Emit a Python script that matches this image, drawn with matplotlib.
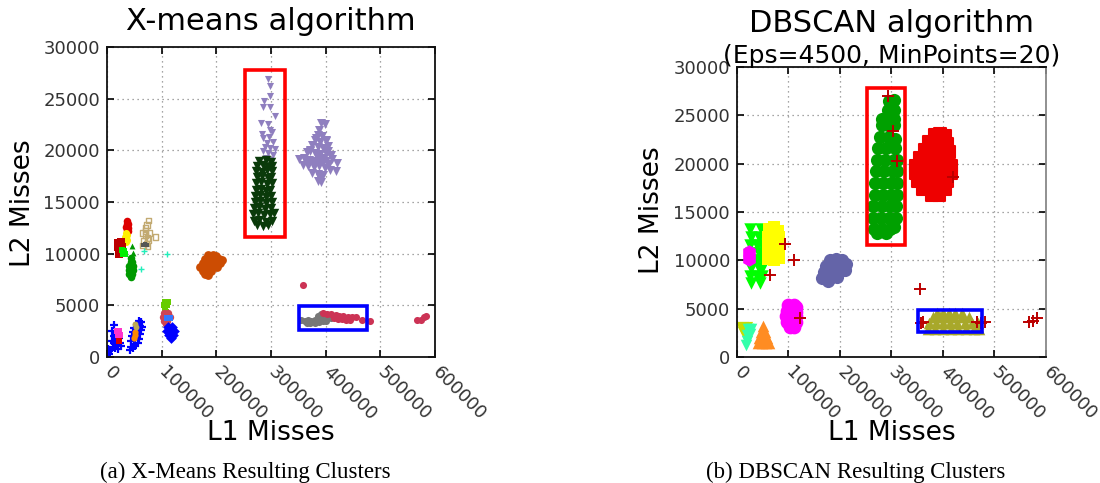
import matplotlib
matplotlib.use("Agg")
import matplotlib.pyplot as plt
from matplotlib.patches import Rectangle

K = 1000  # cluster coordinates below are written in thousands of misses

# ---------------- axis settings (shared) ----------------
x_ticks = [0, 100000, 200000, 300000, 400000, 500000, 600000]
x_tick_labels = ["0", "100000", "200000", "300000", "400000", "500000", "600000"]
y_ticks = [0, 5000, 10000, 15000, 20000, 25000, 30000]
y_tick_labels = ["0", "5000", "10000", "15000", "20000", "25000", "30000"]

# highlighted regions (x0, x1, y0, y1) in thousands
red_box = [252, 326, 11.6, 27.8]
blue_box = [351, 476, 2.6, 4.9]

# ================= (a) X-means clusters =================
xm_lav_col_x = [294, 298, 288, 298, 286, 299, 307, 282, 295, 298, 283, 301, 286, 297, 292, 304,
                289, 298, 307, 286, 295, 303, 291, 299]
xm_lav_col_y = [26.9, 26.2, 24.8, 25.3, 24.2, 24.2, 23.3, 22.6, 22.5, 22.0, 21.6, 21.8, 21.2, 21.3,
                20.7, 20.8, 20.3, 20.2, 20.1, 19.9, 19.7, 19.5, 19.3, 19.1]

xm_lav_blob_x = [392, 398, 388, 385, 393, 380, 390, 400, 375, 385, 395, 405, 365, 372, 380, 390,
                 400, 410, 352, 360, 370, 380, 390, 400, 412, 420, 358, 368, 378, 388, 398, 408,
                 418, 375, 385, 395, 385, 392, 383, 395, 372, 405, 364, 376, 386, 396, 406, 382,
                 390, 400]
xm_lav_blob_y = [22.6, 22.5, 22.0, 21.5, 21.4, 21.0, 20.8, 20.9, 20.5, 20.3, 20.2, 20.4, 19.8, 19.9,
                 19.7, 19.6, 19.7, 19.5, 19.2, 19.3, 19.1, 19.0, 19.1, 19.0, 19.2, 18.8, 18.6, 18.5,
                 18.4, 18.5, 18.3, 18.1, 18.0, 17.8, 17.7, 17.6, 17.0, 16.9, 18.9, 18.9, 20.0, 19.9,
                 19.0, 18.8, 19.4, 19.3, 18.7, 21.2, 17.3, 21.0]

xm_dkgreen_x = [278, 290, 300, 275, 285, 295, 302, 273, 283, 293, 301, 274, 284, 294, 300,
                272, 282, 292, 301, 272, 281, 290, 299, 271, 280, 290, 300, 270, 280, 291, 302,
                268, 278, 289, 300, 267, 277, 288, 299, 305, 268, 278, 290, 302, 274, 285, 295]
xm_dkgreen_y = [19.0, 19.1, 18.9, 18.5, 18.6, 18.4, 18.5, 18.0, 17.9, 18.1, 18.0, 17.4, 17.5, 17.3,
                17.4, 16.8, 16.9, 16.7, 16.8, 16.2, 16.3, 16.1, 16.2, 15.6, 15.7, 15.5, 15.6,
                15.0, 15.1, 14.9, 15.0, 14.4, 14.5, 14.3, 14.4, 13.8, 13.9, 13.7, 13.8, 13.9,
                13.2, 13.3, 13.1, 13.2, 12.8, 12.7, 12.8]

xm_tan_x = [76, 73, 70, 89, 66, 70, 74, 68, 72, 76, 66, 74, 70, 78]
xm_tan_y = [13.2, 12.8, 12.5, 11.6, 12.0, 11.8, 11.5, 11.2, 11.0, 11.3, 10.8, 10.7, 12.2, 12.0]
xm_dkgray_x = [66, 70, 74]
xm_dkgray_y = [10.8, 10.9, 10.8]

xm_red_top_x = [37, 36, 38, 35, 37, 39, 36, 38]
xm_red_top_y = [13.2, 12.9, 12.9, 12.6, 12.6, 12.5, 12.3, 12.2]
xm_yellow_x = [34, 36, 33, 35, 34, 36]
xm_yellow_y = [12.0, 11.8, 11.6, 11.4, 11.1, 11.3]
xm_red_sq_x = [20, 23, 26, 20, 24, 27, 21, 25, 22]
xm_red_sq_y = [11.0, 11.0, 11.1, 10.6, 10.5, 10.6, 10.2, 10.1, 10.0]
xm_lime_x = [28, 31, 29, 32]
xm_lime_y = [10.4, 10.3, 10.0, 10.0]
xm_green_tri_x = [45, 47]
xm_green_tri_y = [10.7, 10.1]
xm_green_ell_x = [44, 43, 46, 41, 44, 47, 40, 43, 47, 41, 45, 43]
xm_green_ell_y = [9.6, 9.2, 9.2, 8.8, 8.8, 8.8, 8.4, 8.4, 8.4, 8.0, 8.0, 7.7]
xm_cyan_x = [68, 110, 63]
xm_cyan_y = [10.3, 10.0, 8.5]

xm_orange_x = [185, 193, 200, 180, 188, 196, 204, 210, 175, 183, 191, 199, 207, 170, 178, 186,
               194, 202, 175, 183, 191, 185, 180]
xm_orange_y = [9.9, 9.9, 9.8, 9.5, 9.5, 9.5, 9.5, 9.4, 9.1, 9.1, 9.1, 9.1, 9.1, 8.7, 8.7, 8.7,
               8.7, 8.7, 8.3, 8.3, 8.3, 7.9, 8.0]

xm_blue_a_x = [10, 14, 20, 12, 16, 22, 9, 13, 18, 24, 11, 15, 20, 26, 12, 1, 3, 0.5, 4, 2]
xm_blue_a_y = [2.5, 2.4, 2.2, 2.0, 1.9, 1.8, 1.5, 1.4, 1.3, 1.4, 1.0, 0.9, 0.8, 1.1, 3.1,
               0.5, 0.3, 0.1, 0.6, 0.8]
xm_pink_x = [19, 22, 20, 23, 21]
xm_pink_y = [2.5, 2.5, 2.1, 2.1, 1.8]
xm_red_small_x = [21]
xm_red_small_y = [1.5]
xm_blue_b_x = [58, 55, 60, 50, 56, 62, 48, 54, 60, 46, 52, 58, 44, 50, 56, 43, 48, 52, 42, 62, 64]
xm_blue_b_y = [3.5, 3.2, 3.0, 2.8, 2.7, 2.6, 2.4, 2.2, 2.2, 2.0, 1.8, 1.7, 1.5, 1.3, 1.4, 1.0,
               0.9, 1.1, 0.7, 3.4, 2.9]
xm_orange_s_x = [51, 52, 50]
xm_orange_s_y = [2.4, 2.1, 1.8]
xm_olive_s_x = [52, 53]
xm_olive_s_y = [3.2, 2.9]

xm_lgreen_x = [106, 112, 104, 110, 106, 108]
xm_lgreen_y = [5.3, 5.3, 5.0, 5.0, 4.7, 4.4]
xm_rose_x = [104, 112, 102, 108, 116, 104, 110, 107]
xm_rose_y = [4.3, 4.3, 3.9, 3.9, 3.9, 3.5, 3.5, 3.2]
xm_blue_c_x = [110, 115]
xm_blue_c_y = [3.8, 3.8]
xm_blue_d_x = [112, 118, 110, 116, 122, 114, 120, 117]
xm_blue_d_y = [2.9, 2.9, 2.5, 2.5, 2.5, 2.1, 2.1, 1.8]

xm_gray_x = [355, 362, 368, 374, 380, 386, 392, 398, 404, 410, 372, 380, 388, 395, 400, 365, 385, 392]
xm_gray_y = [3.6, 3.5, 3.6, 3.5, 3.6, 3.7, 3.8, 3.9, 3.9, 3.8, 3.3, 3.3, 3.4, 3.5, 3.5, 3.3, 4.0, 4.2]
xm_crimson_x = [395, 402, 410, 418, 425, 432, 440, 448, 415, 422, 430, 438, 445, 455, 466, 481,
                358, 567, 574, 580, 584]
xm_crimson_y = [4.3, 4.2, 4.2, 4.1, 4.0, 4.0, 3.9, 3.9, 3.8, 3.7, 3.7, 3.6, 3.6, 3.9, 3.6, 3.5,
                7.0, 3.6, 3.6, 3.9, 4.0]

# ================= (b) DBSCAN clusters =================
db_green_x = [296, 304, 294, 304, 282, 294, 304, 282, 294, 304,
              278, 296, 306, 274, 290, 306, 272, 288, 304, 310, 270, 286, 302, 310,
              268, 284, 300, 310, 267, 283, 299, 310, 265, 281, 297, 309, 264, 280, 296, 308,
              266, 282, 298, 305, 272, 290]
db_green_y = [26.5, 26.6, 25.6, 25.6, 24.6, 24.6, 24.6, 24.0, 24.0, 24.0,
              22.8, 22.8, 22.6, 21.6, 21.6, 21.6, 20.4, 20.4, 20.4, 20.4, 19.2, 19.2, 19.2, 19.2,
              18.0, 18.0, 18.0, 18.0, 16.8, 16.8, 16.8, 16.8, 15.6, 15.6, 15.6, 15.6,
              14.4, 14.4, 14.4, 14.4, 13.2, 13.2, 13.2, 13.4, 12.8, 12.8]

db_red_x = [385, 395, 403, 372, 385, 398, 408, 365, 378, 392, 405, 412, 355, 368, 382, 396, 410,
            348, 360, 374, 388, 402, 415, 348, 362, 376, 390, 404, 416, 352, 366, 380, 394, 408,
            362, 376, 390, 404, 378, 392]
db_red_y = [23.0, 23.1, 22.9, 22.2, 22.2, 22.2, 22.0, 21.4, 21.4, 21.4, 21.4, 21.2, 20.6, 20.6,
            20.6, 20.6, 20.6, 19.8, 19.8, 19.8, 19.8, 19.8, 19.8, 19.0, 19.0, 19.0, 19.0, 19.0,
            19.0, 18.2, 18.2, 18.2, 18.2, 18.2, 17.4, 17.4, 17.4, 17.4, 16.8, 16.8]

db_olive_x = [370, 385, 400, 415, 430, 445, 460, 470, 372, 386, 400, 414, 428, 442, 456, 468,
              380, 394, 408, 422, 436, 450, 388, 400, 412, 424, 436]
db_olive_y = [2.9, 2.9, 2.9, 2.9, 2.9, 2.9, 2.9, 2.9, 3.5, 3.5, 3.5, 3.5, 3.5, 3.5, 3.5, 3.5,
              4.1, 4.1, 4.1, 4.1, 4.1, 4.1, 4.6, 4.6, 4.6, 4.6, 4.5]

db_noise_x = [355, 357, 362, 466, 474, 482, 567, 575, 582, 293, 303, 310, 111, 64, 93, 122, 420]
db_noise_y = [7.0, 3.5, 3.6, 3.6, 3.5, 3.6, 3.6, 3.7, 4.0, 27.0, 23.4, 20.3, 10.0, 8.5, 11.7, 4.0, 18.6]

db_slate_x = [180, 192, 204, 172, 186, 200, 212, 168, 182, 196, 210, 166, 180, 194, 176]
db_slate_y = [10.0, 10.1, 10.0, 9.4, 9.4, 9.5, 9.6, 8.8, 8.8, 8.8, 9.0, 8.2, 8.2, 8.3, 7.9]

db_magenta_x = [100, 110, 115, 97, 107, 115, 96, 106, 115, 97, 107, 114, 102, 110]
db_magenta_y = [5.4, 5.4, 5.2, 4.8, 4.8, 4.7, 4.2, 4.2, 4.2, 3.6, 3.6, 3.6, 3.1, 3.1]

db_lime_x = [26, 46, 28, 42, 26, 38, 48, 28, 42, 48, 26, 38, 48, 28, 42, 48, 26, 38, 48, 28, 44]
db_lime_y = [13.2, 13.2, 12.4, 12.4, 11.6, 11.6, 11.6, 10.8, 10.8, 10.8, 10.0, 10.0, 10.0,
             9.2, 9.2, 9.2, 8.4, 8.4, 8.4, 7.7, 7.7]

db_yellow_x = [62, 72, 80, 60, 70, 82, 60, 70, 82, 60, 70, 82, 60, 72, 82]
db_yellow_y = [13.2, 13.4, 13.0, 12.4, 12.4, 12.4, 11.6, 11.6, 11.6, 10.8, 10.8, 10.8, 10.1, 10.0, 10.2]

db_hex_x = [24, 24]
db_hex_y = [10.9, 10.1]

db_ygreen_x = [10, 18, 14]
db_ygreen_y = [3.0, 3.0, 2.5]
db_aqua_x = [22, 28, 20, 26, 20, 18]
db_aqua_y = [2.9, 2.9, 2.3, 2.4, 1.7, 1.2]
db_orange_x = [50, 46, 55, 42, 50, 58, 40, 48, 56, 62]
db_orange_y = [3.2, 2.6, 2.6, 2.0, 2.0, 2.0, 1.4, 1.4, 1.4, 1.4]


def kx(vals):
    return [v * K for v in vals]


def style_axes(ax):
    ax.set_xlim(0, 600000)
    ax.set_ylim(0, 30000)
    ax.set_xticks(x_ticks)
    ax.set_xticklabels(x_tick_labels, rotation=-45, ha="left", va="center",
                       rotation_mode="anchor")
    ax.set_yticks(y_ticks)
    ax.set_yticklabels(y_tick_labels)
    ax.tick_params(direction="in", top=True, right=True, length=5, width=1.2,
                   labelsize=13, labelcolor="#333333", pad=5)
    ax.tick_params(axis="x", pad=9)
    ax.grid(True, linestyle=(0, (1, 3)), color="#888888", linewidth=0.9)
    ax.set_axisbelow(True)
    for s in ax.spines.values():
        s.set_linewidth(1.3)
        s.set_color("#111111")


def draw_box(ax, box, color):
    ax.add_patch(Rectangle((box[0] * K, box[2] * K), (box[1] - box[0]) * K,
                           (box[3] - box[2]) * K, fill=False, edgecolor=color,
                           linewidth=2.6, zorder=10))


fig = plt.figure(figsize=(11, 4.83), dpi=100)
ax1 = fig.add_axes([0.0973, 0.2609, 0.2982, 0.6418])
ax2 = fig.add_axes([0.6700, 0.2609, 0.2809, 0.6004])

# ---- (a) X-means ----
def sc(ax, xs, ys, **kw):
    ax.scatter(kx(xs), kx(ys), linewidths=kw.pop("lw", 0), **kw)

sc(ax1, xm_lav_col_x, xm_lav_col_y, marker="v", s=26, c="#8f7fbf")
sc(ax1, xm_lav_blob_x, xm_lav_blob_y, marker="v", s=42, c="#8f7fbf")
sc(ax1, xm_dkgreen_x, xm_dkgreen_y, marker="v", s=46, c="#0a3a0a")
sc(ax1, xm_tan_x, xm_tan_y, marker="s", s=16, facecolors="none", edgecolors="#c2aa72", lw=1.0)
sc(ax1, xm_dkgray_x, xm_dkgray_y, marker="s", s=12, c="#555555")
sc(ax1, xm_red_top_x, xm_red_top_y, marker="o", s=30, c="#dd0000")
sc(ax1, xm_yellow_x, xm_yellow_y, marker="o", s=26, c="#ffee00")
sc(ax1, xm_red_sq_x, xm_red_sq_y, marker="s", s=26, c="#bb0000")
sc(ax1, xm_lime_x, xm_lime_y, marker="s", s=22, c="#00ee00")
sc(ax1, xm_green_tri_x, xm_green_tri_y, marker="^", s=18, c="#009900")
sc(ax1, xm_green_ell_x, xm_green_ell_y, marker="o", s=30, c="#009900")
sc(ax1, xm_cyan_x, xm_cyan_y, marker="+", s=22, c="#22eebb", lw=1.0)
sc(ax1, xm_orange_x, xm_orange_y, marker="o", s=40, c="#cc4c02")
sc(ax1, xm_blue_a_x, xm_blue_a_y, marker="+", s=30, c="#0000ff", lw=1.6)
sc(ax1, xm_pink_x, xm_pink_y, marker="s", s=20, c="#ff33cc")
sc(ax1, xm_red_small_x, xm_red_small_y, marker="s", s=14, c="#dd0000")
sc(ax1, xm_blue_b_x, xm_blue_b_y, marker="+", s=30, c="#0000ff", lw=1.6)
sc(ax1, xm_orange_s_x, xm_orange_s_y, marker="o", s=20, c="#ff8800")
sc(ax1, xm_olive_s_x, xm_olive_s_y, marker="o", s=18, c="#bba855")
sc(ax1, xm_lgreen_x, xm_lgreen_y, marker="s", s=24, c="#66cc00")
sc(ax1, xm_rose_x, xm_rose_y, marker="o", s=28, c="#cc4455")
sc(ax1, xm_blue_c_x, xm_blue_c_y, marker="s", s=14, c="#3377ff")
sc(ax1, xm_blue_d_x, xm_blue_d_y, marker="D", s=30, c="#0000ff")
sc(ax1, xm_gray_x, xm_gray_y, marker="o", s=26, c="#777777")
sc(ax1, xm_crimson_x, xm_crimson_y, marker="o", s=26, c="#cc3355")

draw_box(ax1, red_box, "#ff0000")
draw_box(ax1, blue_box, "#0000ff")
style_axes(ax1)

# ---- (b) DBSCAN ----
sc(ax2, db_green_x, db_green_y, marker="o", s=90, c="#00a000")
sc(ax2, db_red_x, db_red_y, marker="s", s=80, facecolors="#ee0000", edgecolors="#ee0000", lw=1.5)
sc(ax2, db_olive_x, db_olive_y, marker="^", s=70, c="#a8a82a")
sc(ax2, db_slate_x, db_slate_y, marker="o", s=90, c="#6464a8")
sc(ax2, db_magenta_x, db_magenta_y, marker="o", s=70, facecolors="#ff00ff", edgecolors="#ff00ff", lw=1.5)
sc(ax2, db_lime_x, db_lime_y, marker="v", s=80, c="#00ff00")
sc(ax2, db_yellow_x, db_yellow_y, marker="s", s=70, c="#ffff00")
sc(ax2, db_hex_x, db_hex_y, marker="h", s=110, c="#ff00ff")
sc(ax2, db_ygreen_x, db_ygreen_y, marker="v", s=90, c="#c8dc00")
sc(ax2, db_aqua_x, db_aqua_y, marker="v", s=70, c="#33ffaa")
sc(ax2, db_orange_x, db_orange_y, marker="^", s=70, c="#ff8c22")
sc(ax2, db_noise_x, db_noise_y, marker="+", s=80, c="#bb0000", lw=1.4)

draw_box(ax2, red_box, "#ff0000")
draw_box(ax2, blue_box, "#0000ff")
style_axes(ax2)
ax2.spines["right"].set_color("#888888")

# ---- titles and labels ----
fig.text(0.2464, 1 - 30 / 483, "X-means algorithm", ha="center", va="baseline", fontsize=22)
fig.text(0.8104, 1 - 32 / 483, "DBSCAN algorithm", ha="center", va="baseline", fontsize=22)
fig.text(0.8104, 1 - 63 / 483, "(Eps=4500, MinPoints=20)", ha="center", va="baseline", fontsize=18)

fig.text(0.2464, 1 - 433 / 483, "L1 Misses", ha="center", va="center", fontsize=19)
fig.text(0.8104, 1 - 433 / 483, "L1 Misses", ha="center", va="center", fontsize=19)
fig.text(23 / 1100, 1 - 203 / 483, "L2 Misses", ha="center", va="center", rotation=90, fontsize=19)
fig.text(652 / 1100, 1 - 210 / 483, "L2 Misses", ha="center", va="center", rotation=90, fontsize=19)

fig.text(245 / 1100, 1 - 478 / 483, "(a) X-Means Resulting Clusters", ha="center",
         va="baseline", fontsize=16.5, family="Liberation Serif")
fig.text(856 / 1100, 1 - 478 / 483, "(b) DBSCAN Resulting Clusters", ha="center",
         va="baseline", fontsize=16.5, family="Liberation Serif")

fig.savefig("out.png", dpi=100)
